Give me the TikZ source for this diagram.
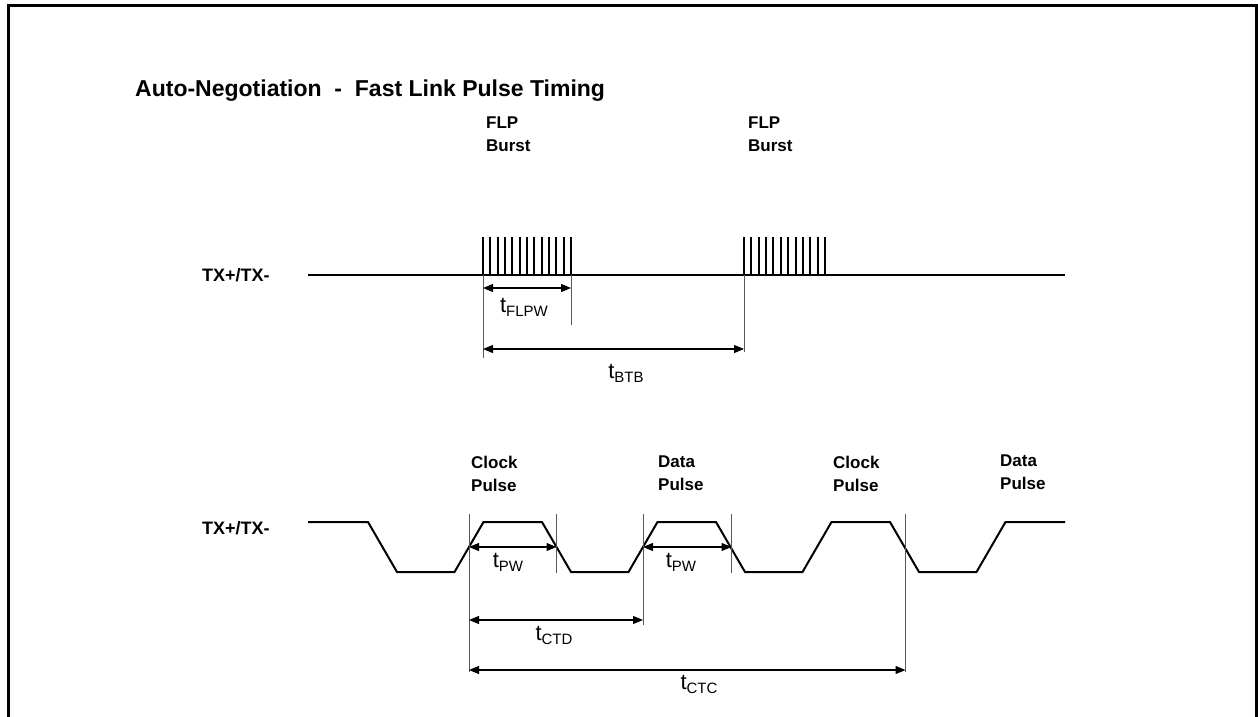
\documentclass[tikz,border=0pt]{standalone}
\usepackage{fontspec}
\setmainfont{Liberation Sans}
\usetikzlibrary{arrows.meta}
\newcommand{\tsym}[1]{{\fontsize{22}{24}\selectfont t}{\fontsize{15}{16}\selectfont\raisebox{-4pt}{#1}}}
\begin{document}
\begin{tikzpicture}[x=1pt,y=-1pt,
  wave/.style={line width=2pt, line join=miter},
  burst/.style={line width=2pt},
  ext/.style={line width=0.9pt, black!65},
  dim/.style={line width=1.1pt, {Triangle[length=10pt,width=8pt]}-{Triangle[length=10pt,width=8pt]}},
  lbl/.style={font=\fontsize{17}{23}\selectfont\bfseries, align=left, inner sep=0pt},
  txlbl/.style={font=\fontsize{18}{23}\selectfont\bfseries, inner sep=0pt},
  tlbl/.style={inner sep=0pt}]
\useasboundingbox (0,0) rectangle (1258,717);
\draw[line width=3pt] (8,717) -- (8,6) -- (1256.5,6) -- (1256.5,717);

\node[anchor=west, inner sep=0pt, font=\fontsize{23}{26}\selectfont\bfseries] (title) at (135,91) {Auto-Negotiation\ \ -\ \ Fast Link Pulse Timing};

% ---------- top row ----------
\node[txlbl, anchor=west] (txa) at (202,275) {TX+/TX-};
\coordinate (a0) at (308,275);
\coordinate (a1) at (1065,275);
\draw[wave] (a0) -- (a1);
\foreach \i in {0,...,12} \draw[burst] ({483+\i*88/12},237) -- ({483+\i*88/12},275);
\foreach \i in {0,...,11} \draw[burst] ({744+\i*81/11},237) -- ({744+\i*81/11},275);
\node[lbl, anchor=north west] (flp1) at (486,117) {FLP\\Burst};
\node[lbl, anchor=north west] (flp2) at (748,117) {FLP\\Burst};

\coordinate (b1s) at (483,275);
\coordinate (b1e) at (571,275);
\coordinate (b2s) at (744,275);
\draw[ext] (b1s) -- (483,358) coordinate (b1sd);
\draw[ext] (b1e) -- (571,325) coordinate (b1ed);
\draw[ext] (b2s) -- (744,352) coordinate (b2sd);
\coordinate (fw1) at (483,288);
\coordinate (fw2) at (571,288);
\draw[dim] (fw1) -- (fw2);
\coordinate (bt1) at (483,349);
\coordinate (bt2) at (744,349);
\draw[dim] (bt1) -- (bt2);
\node[tlbl] (tflpw) at (524,307) {\tsym{FLPW}};
\node[tlbl] (tbtb) at (626,373) {\tsym{BTB}};

% ---------- bottom row ----------
\node[txlbl, anchor=west] (txb) at (202,528) {TX+/TX-};
\draw[wave] (308,522) -- (368,522) -- (397,572) -- (454.5,572)
  -- (483.5,522) -- (542,522) -- (571,572) -- (628.5,572)
  -- (657.5,522) -- (716,522) -- (745,572) -- (802.5,572)
  -- (831.5,522) -- (890,522) -- (919,572) -- (976.5,572)
  -- (1005.5,522) -- (1065,522);

\node[lbl, anchor=north west] (cp1) at (471,456) {Clock\\Pulse};
\node[lbl, anchor=north west] (dp1) at (658,456) {Data\\Pulse};
\node[lbl, anchor=north west] (cp2) at (833,456) {Clock\\Pulse};
\node[lbl, anchor=north west] (dp2) at (1000,455) {Data\\Pulse};

\coordinate (e1) at (469,514);
\coordinate (e2) at (556.5,514);
\coordinate (e3) at (643,514);
\coordinate (e4) at (731.5,514);
\coordinate (e5) at (905.5,514);
\draw[ext] (e1) -- (469,672);
\draw[ext] (e2) -- (556.5,573);
\draw[ext] (e3) -- (643,625);
\draw[ext] (e4) -- (731.5,573);
\draw[ext] (e5) -- (905.5,672);

\coordinate (p1a) at (469,547);
\coordinate (p1b) at (556.5,547);
\coordinate (p2a) at (643,547);
\coordinate (p2b) at (731.5,547);
\draw[dim] (p1a) -- (p1b);
\draw[dim] (p2a) -- (p2b);
\coordinate (cd1) at (469,620);
\coordinate (cd2) at (643,620);
\draw[dim] (cd1) -- (cd2);
\coordinate (cc1) at (469,670);
\coordinate (cc2) at (905.5,670);
\draw[dim] (cc1) -- (cc2);

\node[tlbl] (tpw1) at (508,562) {\tsym{PW}};
\node[tlbl] (tpw2) at (681,562) {\tsym{PW}};
\node[tlbl] (tctd) at (554,635) {\tsym{CTD}};
\node[tlbl] (tctc) at (699,684) {\tsym{CTC}};
\end{tikzpicture}
\end{document}
